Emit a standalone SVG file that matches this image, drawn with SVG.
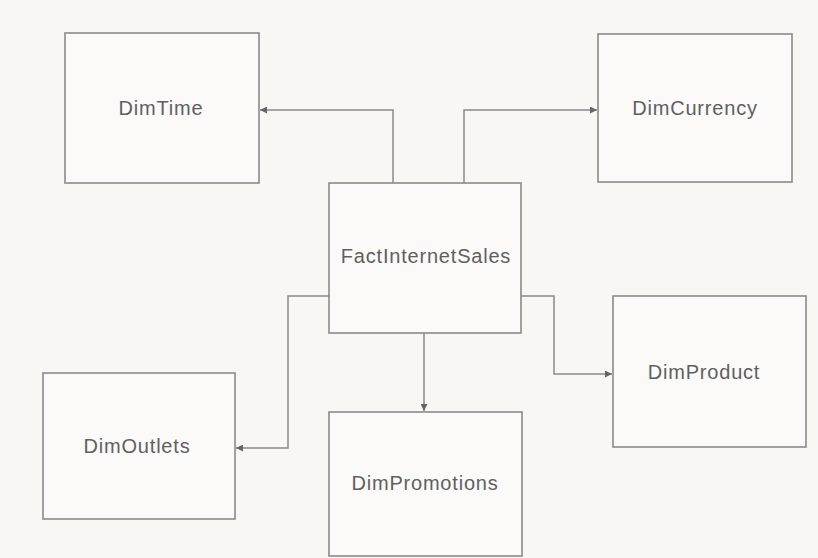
<svg xmlns="http://www.w3.org/2000/svg" width="818" height="558" viewBox="0 0 818 558">
  <defs>
    <marker id="arrow" viewBox="0 0 10 10" refX="10" refY="5" markerWidth="9" markerHeight="7" markerUnits="userSpaceOnUse" orient="auto">
      <path d="M0,0 L10,5 L0,10 z" fill="#666"/>
    </marker>
  </defs>
  <style>
    .box { fill: #fbfaf8; stroke: #8a8a8a; stroke-width: 1.6; }
    .label { font-family: "Liberation Sans", Arial, sans-serif; font-size: 20px; letter-spacing: 0.8px; fill: #606060; text-anchor: middle; }
    .link { fill: none; stroke: #8a8a8a; stroke-width: 1.5; marker-end: url(#arrow); }
  </style>

  <rect width="818" height="558" fill="#f8f7f4"/>

  <g id="connectors">
    <polyline class="link" points="393,183 393,110 260,110"/>
    <polyline class="link" points="464,183 464,110 597,110"/>
    <polyline class="link" points="329,296 288,296 288,448 236,448"/>
    <polyline class="link" points="521,296 554,296 554,374 612,374"/>
    <polyline class="link" points="424,333 424,411"/>
  </g>

  <g id="DimTime">
    <rect class="box" x="65" y="33" width="194" height="150"/>
    <text class="label" x="161" y="115">DimTime</text>
  </g>

  <g id="DimCurrency">
    <rect class="box" x="598" y="34" width="194" height="148"/>
    <text class="label" x="695" y="115">DimCurrency</text>
  </g>

  <g id="FactInternetSales">
    <rect class="box" x="329" y="183" width="192" height="150"/>
    <text class="label" x="426" y="263">FactInternetSales</text>
  </g>

  <g id="DimOutlets">
    <rect class="box" x="43" y="373" width="192" height="146"/>
    <text class="label" x="137" y="453">DimOutlets</text>
  </g>

  <g id="DimProduct">
    <rect class="box" x="613" y="296" width="193" height="151"/>
    <text class="label" x="704" y="379">DimProduct</text>
  </g>

  <g id="DimPromotions">
    <rect class="box" x="329" y="412" width="193" height="144"/>
    <text class="label" x="425" y="490">DimPromotions</text>
  </g>
</svg>
